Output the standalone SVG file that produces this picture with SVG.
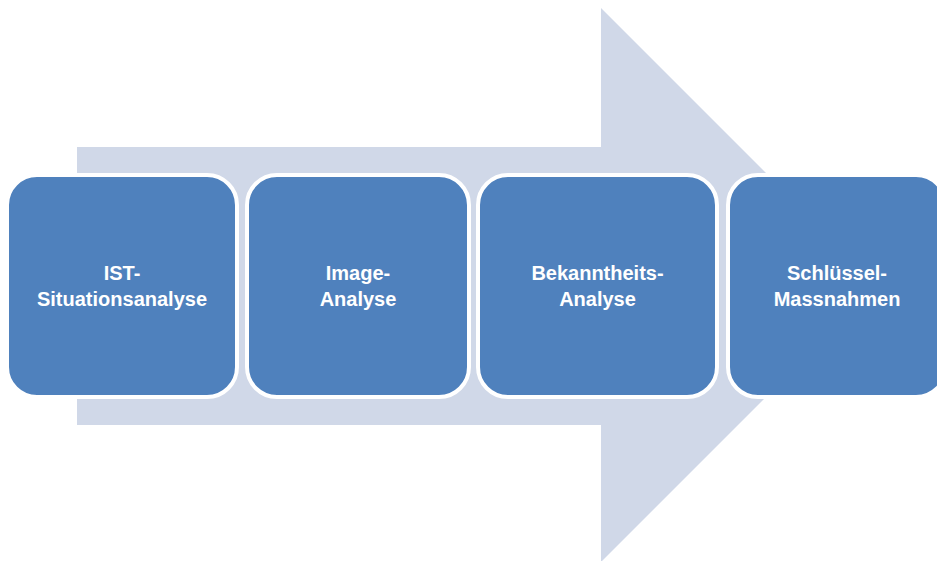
<svg xmlns="http://www.w3.org/2000/svg" width="937" height="561" viewBox="0 0 937 561">
<style>
.box{fill:#4F81BD;stroke:#FFFFFF;stroke-width:4}
.lbl{font-family:"Liberation Sans",Arial,sans-serif;font-weight:bold;font-size:20px;fill:#FFFFFF;text-anchor:middle}
</style>
<rect width="937" height="561" fill="#FFFFFF"/>
<g id="connectors">
<polygon points="77,147 601,147 601,8 878,285 601,562 601,425 77,425" fill="#D0D8E8"/>
</g>
<g id="node1">
<rect class="box" x="7" y="175" width="230" height="222" rx="30" ry="30"/>
<text class="lbl" x="122" y="280">IST-</text>
<text class="lbl" x="122" y="306">Situationsanalyse</text>
</g>
<g id="node2">
<rect class="box" x="247" y="175" width="222" height="222" rx="30" ry="30"/>
<text class="lbl" x="358" y="280">Image-</text>
<text class="lbl" x="358" y="306">Analyse</text>
</g>
<g id="node3">
<rect class="box" x="478" y="175" width="239" height="222" rx="30" ry="30"/>
<text class="lbl" x="597.5" y="280">Bekanntheits-</text>
<text class="lbl" x="597.5" y="306">Analyse</text>
</g>
<g id="node4">
<rect class="box" x="728" y="175" width="218" height="222" rx="30" ry="30"/>
<text class="lbl" x="837" y="280">Schlüssel-</text>
<text class="lbl" x="837" y="306">Massnahmen</text>
</g>
</svg>
